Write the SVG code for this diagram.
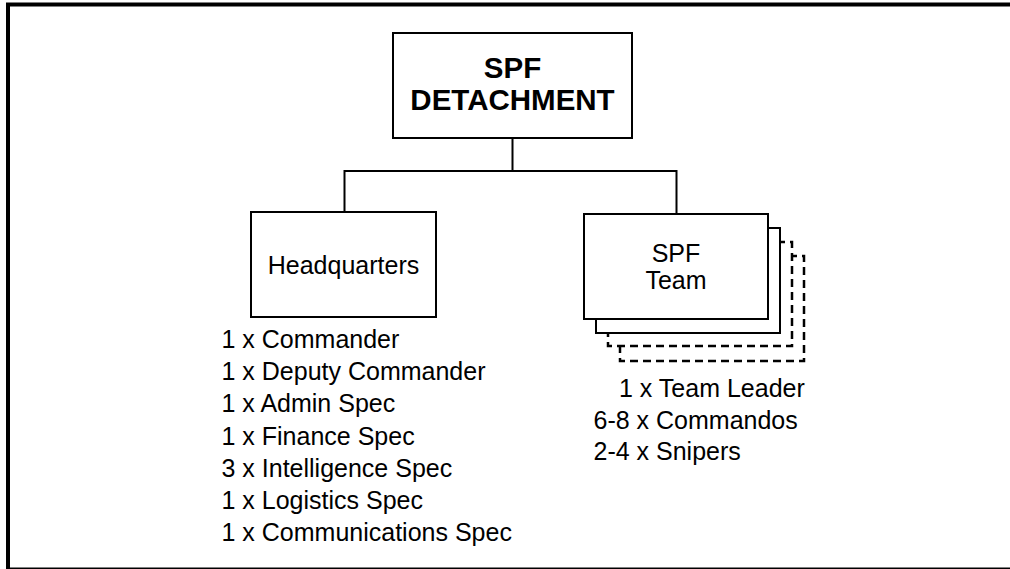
<svg xmlns="http://www.w3.org/2000/svg" width="1010" height="569" viewBox="0 0 1010 569">
<style>
.box{fill:#fff;stroke:#000;stroke-width:2}
.dash{fill:#fff;stroke:#000;stroke-width:2.5;stroke-dasharray:8 5}
.conn{fill:none;stroke:#000;stroke-width:2}
.t{font-family:"Liberation Sans",Arial,sans-serif;font-size:25px;fill:#000}
.b{font-family:"Liberation Sans",Arial,sans-serif;font-size:29.5px;font-weight:bold;fill:#000}
</style>
<rect x="0" y="0" width="1010" height="569" fill="#fff"/>
<rect x="8" y="4.5" width="1010" height="565" fill="none" stroke="#000" stroke-width="4"/>
<g id="connectors">
<path class="conn" d="M512.5 138 V171 M344.5 211 V171 H676.5 V214"/>
</g>
<g id="detachment">
<rect class="box" x="393" y="33" width="239" height="105"/>
<text class="b" x="512.5" y="78" text-anchor="middle">SPF</text>
<text class="b" x="512.5" y="110" text-anchor="middle">DETACHMENT</text>
</g>
<g id="headquarters">
<rect class="box" x="251" y="212" width="185" height="105"/>
<text class="t" x="343.5" y="274" text-anchor="middle">Headquarters</text>
<text class="t" x="221.5" y="348">1 x Commander</text>
<text class="t" x="221.5" y="380.2">1 x Deputy Commander</text>
<text class="t" x="221.5" y="412.4">1 x Admin Spec</text>
<text class="t" x="221.5" y="444.6">1 x Finance Spec</text>
<text class="t" x="221.5" y="476.8">3 x Intelligence Spec</text>
<text class="t" x="221.5" y="509">1 x Logistics Spec</text>
<text class="t" x="221.5" y="541.2">1 x Communications Spec</text>
</g>
<g id="spf-team">
<rect class="dash" x="620" y="256" width="184" height="105"/>
<rect class="dash" x="608" y="242" width="184" height="104"/>
<rect class="box" x="596" y="228" width="184" height="105"/>
<rect class="box" x="584" y="214" width="184" height="105"/>
<text class="t" x="676" y="262" text-anchor="middle">SPF</text>
<text class="t" x="676" y="289" text-anchor="middle">Team</text>
<text class="t" x="619" y="397">1 x Team Leader</text>
<text class="t" x="593.5" y="428.5">6-8 x Commandos</text>
<text class="t" x="593.5" y="460">2-4 x Snipers</text>
</g>
</svg>
